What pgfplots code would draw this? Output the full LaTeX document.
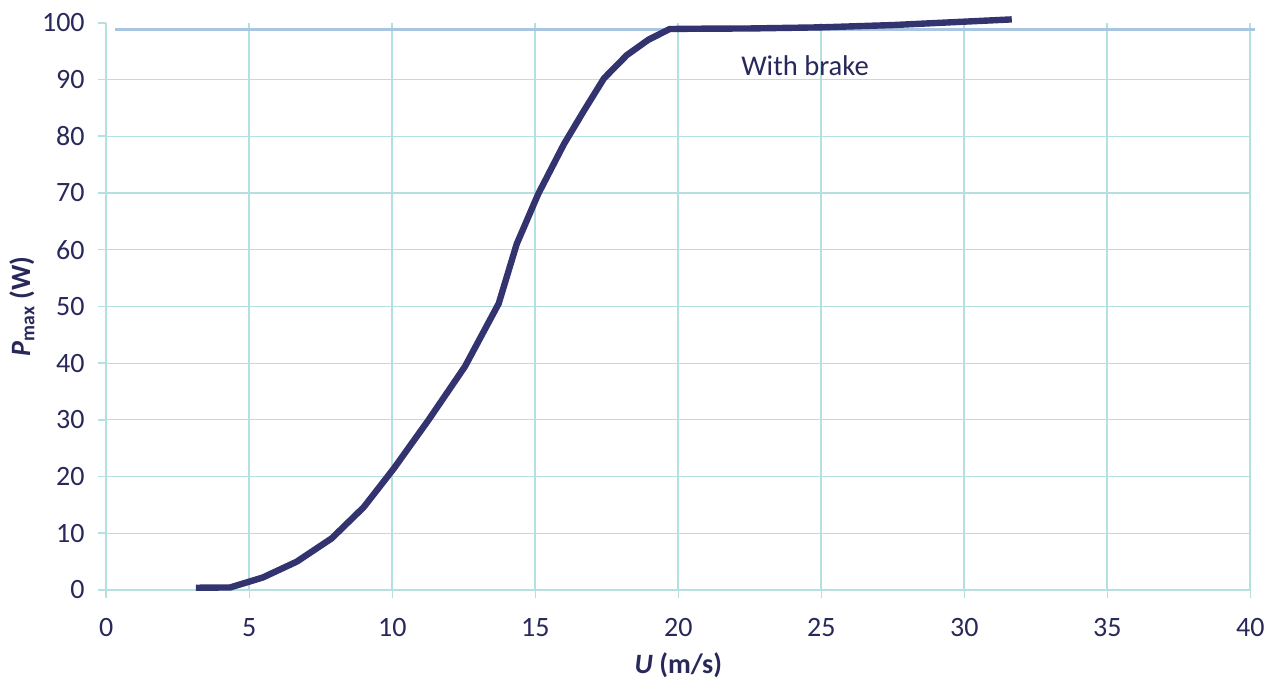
\documentclass[border=0pt]{standalone}
\usepackage{pgfplots}
\pgfplotsset{compat=1.18}
\usepackage{fontspec}
\setmainfont{Carlito}

\definecolor{gridc}{RGB}{180,224,224}
\definecolor{brakec}{RGB}{168,198,226}
\definecolor{curvec}{RGB}{51,51,112}
\definecolor{textc}{RGB}{40,40,90}

\begin{document}
\begin{tikzpicture}
\begin{axis}[
    scale only axis,
    width=572pt,
    height=283.6pt,
    xmin=0, xmax=40,
    ymin=0, ymax=100,
    xtick={0,5,...,40},
    ytick={0,10,...,90},
    extra y ticks={100},
    extra y tick style={grid=none},
    grid=major,
    x grid style={gridc, line width=0.9pt},
    y grid style={gridc, line width=0.6pt},
    axis line style={draw=none},
    xtick pos=lower, ytick pos=left,
    tick align=outside,
    major tick length=4pt,
    tick style={draw=gridc, line width=0.8pt},
    /pgf/number format/assume math mode=true,
    tick label style={font=\fontsize{14}{16}\selectfont, text=textc},
    xticklabel style={yshift=-6.5pt},
    yticklabel style={xshift=-3.3pt},
    xlabel={\textbf{\textit{U} (m/s)}},
    ylabel={\textbf{\textit{P}\textsubscript{max} (W)}},
    label style={font=\fontsize{14}{16}\selectfont, text=textc},
    xlabel style={at={(axis description cs:0.5,-0.132)}, anchor=center},
    ylabel style={at={(axis description cs:-0.0737,0.5)}, anchor=center},
    clip=false,
]
% brake limit line
\addplot[brakec, line width=1.5pt] coordinates {(0.31,98.9) (40.17,98.9)};

% maximum power curve
\addplot[curvec, line width=3.2pt, line cap=butt, line join=round] coordinates {
    (3.13,0.4) (4.33,0.45) (5.47,2.2) (6.66,5.0) (7.88,9.1) (9.0,14.6)
    (10.05,21.4) (11.27,30.0) (12.54,39.4) (13.72,50.5) (14.35,61.0)
    (15.1,69.8) (16.0,78.6) (16.7,84.5) (17.4,90.2) (18.2,94.3)
    (18.95,97.0) (19.7,98.9) (20.45,98.95) (22.5,99.0) (25,99.2)
    (27.5,99.6) (30,100.2) (31.66,100.6)
};

\node[font=\fontsize{14.3}{16}\selectfont, text=textc] at (axis cs:24.43,92.5) {With brake};
\end{axis}
\pgfresetboundingbox
\path[use as bounding box] (-53.15pt,-45pt) rectangle (585.35pt,295pt);
\end{tikzpicture}
\end{document}
